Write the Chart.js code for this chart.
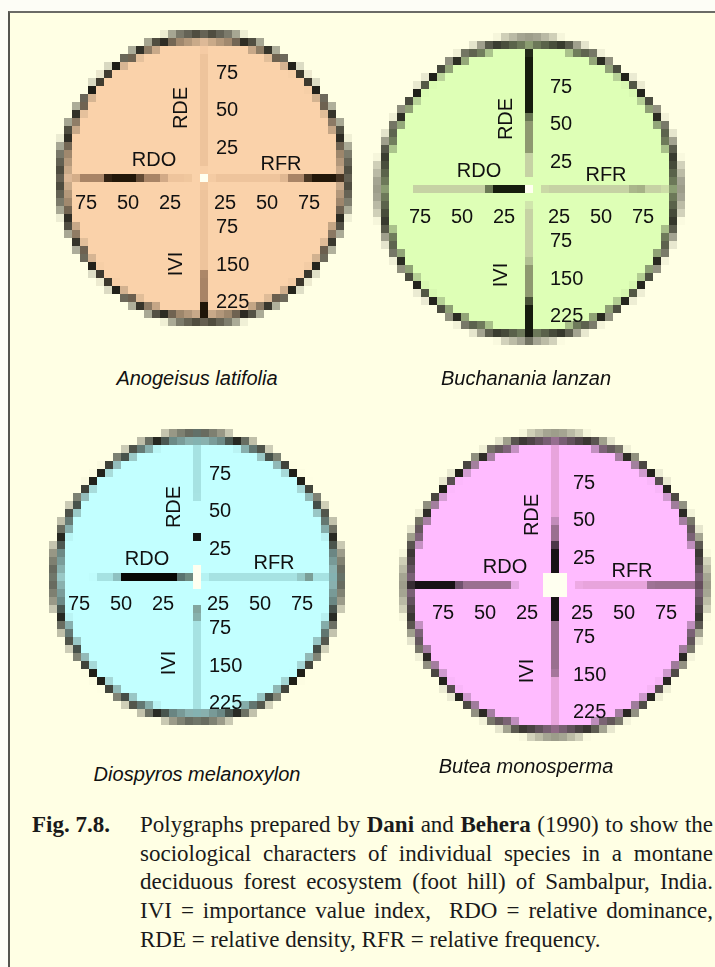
<!DOCTYPE html>
<html>
<head>
<meta charset="utf-8">
<script src="https://cdn.jsdelivr.net/npm/chart.js@4.4.0/dist/chart.umd.min.js"></script>
<style>
  body { margin: 0; width: 715px; height: 967px; overflow: hidden; background: #fdfdf6; position: relative; }
  .frame { position: absolute; left: 8px; top: 11px; width: 720px; height: 970px; background: #ffffe4;
           border-top: 2px solid #6b6b66; border-left: 2px solid #55554f; }
  .plot { position: absolute; }
  .plot canvas { position: absolute; left: 0; top: 0; }
  .plot canvas.cells { image-rendering: pixelated; }
  .name { position: absolute; font: italic 20px "Liberation Sans", Arial, sans-serif; color: #111;
          transform: translate(-50%, -50%); white-space: nowrap; }
  .fig { position: absolute; left: 32px; top: 811px; font: bold 23px "Liberation Serif", "Times New Roman", serif;
         line-height: 28.7px; color: #1a1a1a; }
  .caption { position: absolute; left: 140px; top: 811px; width: 573px; font: 23px "Liberation Serif", "Times New Roman", serif;
             line-height: 28.7px; color: #1a1a1a; }
  .caption div { text-align: justify; text-align-last: justify; }
  .caption div.last { text-align-last: left; }
</style>
</head>
<body>
<div class="frame"></div>
<div id="plots"></div>
<div class="fig">Fig. 7.8.</div>
<div class="caption">
  <div>Polygraphs prepared by <b>Dani</b> and <b>Behera</b> (1990) to show the</div>
  <div>sociological characters of individual species in a montane</div>
  <div>deciduous forest ecosystem (foot hill) of Sambalpur, India.</div>
  <div>IVI = importance value index,&nbsp; RDO = relative dominance,</div>
  <div class="last">RDE = relative density, RFR = relative frequency.</div>
</div>
<script>
const axisNames = ['RDO', 'RFR', 'RDE', 'IVI'];
const tickValues = [25, 50, 75];
const iviTickValues = [75, 150, 225];
const speciesNames = ['Anogeisus latifolia', 'Buchanania lanzan', 'Diospyros melanoxylon', 'Butea monosperma'];

// [from, to] along RDO, RFR, RDE, IVI - light, medium and dark cells of each polygraph
const anogeisusFaint = [[8, 24], [5, 49], [7, 85], [18, 190]];
const anogeisusBand = [[24, 76], [49, 82], [0, 0], [190, 280]];
const anogeisusCore = [[38, 59], [61, 82], [0, 0], [250, 280]];

const buchananiaFaint = [[24, 69], [8, 82], [8, 24], [36, 150]];
const buchananiaBand = [[0, 0], [62, 67], [24, 48], [150, 228]];
const buchananiaCore = [[0, 24], [0, 0], [48, 93], [228, 298]];

const diospyrosFaint = [[46, 60], [5, 85], [51, 96], [80, 280]];
const diospyrosBand = [[0, 10], [63, 68], [0, 0], [66, 76]];
const diospyrosCore = [[10, 46], [0, 0], [24, 29], [0, 0]];

const buteaFaint = [[0, 0], [13, 55], [43, 96], [176, 296]];
const buteaBand = [[25, 57], [55, 88], [28, 43], [70, 176]];
const buteaCore = [[57, 87], [0, 0], [3, 28], [0, 70]];

const plots = [
  { tiers: [anogeisusFaint, anogeisusBand, anogeisusCore], fill: '#fad2aa',
    shades: ['#eec49c', '#a88466', '#221709'], left: 56, top: 30, size: 296, ring: 143, hole: [8, 8],
    shift: [0, 0], nameX: 197, nameY: 378 },
  { tiers: [buchananiaFaint, buchananiaBand, buchananiaCore], fill: '#deffb6',
    shades: ['#c6d2a4', '#8e9870', '#161c0e'], left: 373, top: 33, size: 312, ring: 148, hole: [8, 8],
    shift: [9, 3], nameX: 526, nameY: 378 },
  { tiers: [diospyrosFaint, diospyrosBand, diospyrosCore], fill: '#c2ffff',
    shades: ['#a6e2e2', '#6e8a80', '#080806'], left: 49, top: 429, size: 296, ring: 142, hole: [8, 24],
    shift: [0, 2], nameX: 197, nameY: 774 },
  { tiers: [buteaFaint, buteaBand, buteaCore], fill: '#ffbbff',
    shades: ['#e8a4dc', '#9a7090', '#181216'], left: 399, top: 429, size: 312, ring: 148, hole: [24, 24],
    shift: [6, 3], nameX: 526, nameY: 766 }
];

function scalesFor(size) {
  const xr = size / 2 / 1.68;
  const yr = size / 2 / 1.5;
  return {
    x: { type: 'linear', display: false, min: -xr, max: xr },
    y: { type: 'linear', display: false, min: -yr, max: yr },
    yIvi: { type: 'linear', display: false, min: -yr * 3, max: yr * 3 }
  };
}

function segment(axis, range) {
  const [a, b] = range;
  if (axis === 'RDO') return [{ x: -a, y: 0 }, { x: -b, y: 0 }];
  if (axis === 'RFR') return [{ x: a, y: 0 }, { x: b, y: 0 }];
  if (axis === 'RDE') return [{ x: 0, y: a }, { x: 0, y: b }];
  return [{ x: 0, y: -a }, { x: 0, y: -b }];
}

const discPlugin = {
  id: 'disc',
  beforeDatasetsDraw(chart, args, opts) {
    const ctx = chart.ctx;
    const cx = chart.scales.x.getPixelForValue(0);
    const cy = chart.scales.y.getPixelForValue(0);
    ctx.save();
    ctx.beginPath();
    ctx.arc(cx, cy, opts.ring, 0, Math.PI * 2);
    ctx.fillStyle = opts.fill;
    ctx.fill();
    ctx.restore();
  },
  afterDatasetsDraw(chart, args, opts) {
    const ctx = chart.ctx;
    const cx = chart.scales.x.getPixelForValue(0);
    const cy = chart.scales.y.getPixelForValue(0);
    ctx.save();
    ctx.fillStyle = '#fffff0';
    ctx.fillRect(cx - opts.hole[0] / 2, cy - opts.hole[1] / 2, opts.hole[0], opts.hole[1]);
    ctx.beginPath();
    ctx.arc(cx, cy, opts.ring, 0, Math.PI * 2);
    ctx.lineWidth = 8;
    ctx.strokeStyle = '#1e1e17';
    ctx.stroke();
    ctx.restore();
  }
};

const labelPlugin = {
  id: 'axisLabels',
  afterDraw(chart, args, opts) {
    const ctx = chart.ctx;
    const { x, y, yIvi } = chart.scales;
    const cx = x.getPixelForValue(0);
    const cy = y.getPixelForValue(0);
    const [sx, sy] = opts.shift;
    ctx.save();
    ctx.font = '20px "Liberation Sans", Arial, sans-serif';
    ctx.fillStyle = '#111';
    ctx.textBaseline = 'middle';
    tickValues.forEach(v => {
      ctx.textAlign = 'center';
      ctx.fillText(v, x.getPixelForValue(-v) + 8 + sx, cy + 25 + sy);
      ctx.fillText(v, x.getPixelForValue(v) - 21 + sx, cy + 25 + sy);
      ctx.textAlign = 'left';
      ctx.fillText(v, cx + 12 + sx, y.getPixelForValue(v) + 7.5 + sy);
    });
    iviTickValues.forEach(v => {
      ctx.textAlign = 'left';
      ctx.fillText(v, cx + 12 + sx, yIvi.getPixelForValue(-v) + 12 + sy);
    });
    ctx.textAlign = 'center';
    ctx.fillText(axisNames[0], cx - 50, cy - 18);
    ctx.fillText(axisNames[1], cx + 77, cy - 14);
    [[axisNames[2], -23, -70], [axisNames[3], -28, 86]].forEach(([t, dx, dy]) => {
      ctx.save();
      ctx.translate(cx + dx, cy + dy);
      ctx.rotate(-Math.PI / 2);
      ctx.fillText(t, 0, 0);
      ctx.restore();
    });
    ctx.restore();
  }
};

const holder = document.getElementById('plots');

plots.forEach((p, i) => {
  const box = document.createElement('div');
  box.className = 'plot';
  box.style.left = p.left + 'px';
  box.style.top = p.top + 'px';
  box.style.width = p.size + 'px';
  box.style.height = p.size + 'px';
  holder.appendChild(box);

  const cells = document.createElement('canvas');
  cells.className = 'cells';
  cells.width = p.size;
  cells.height = p.size;
  cells.style.width = p.size + 'px';
  cells.style.height = p.size + 'px';
  box.appendChild(cells);

  const text = document.createElement('canvas');
  text.width = p.size;
  text.height = p.size;
  text.style.width = p.size + 'px';
  text.style.height = p.size + 'px';
  box.appendChild(text);

  const datasets = [];
  p.tiers.forEach((tier, t) => {
    tier.forEach((range, a) => {
      if (range[1] - range[0] <= 0) return;
      datasets.push({
        label: axisNames[a],
        data: segment(axisNames[a], range),
        showLine: true,
        borderColor: p.shades[t],
        borderWidth: 8,
        borderCapStyle: 'butt',
        pointRadius: 0,
        clip: false,
        order: 2 - t, // darker cells on top
        yAxisID: axisNames[a] === 'IVI' ? 'yIvi' : 'y'
      });
    });
  });

  // drawn at one device pixel per 8 css pixels, like the scanned original
  new Chart(cells, {
    type: 'scatter',
    data: { datasets: datasets },
    options: {
      responsive: false,
      animation: false,
      devicePixelRatio: 1 / 8,
      events: [],
      layout: { padding: 0 },
      plugins: {
        legend: { display: false },
        tooltip: { enabled: false },
        disc: { fill: p.fill, ring: p.ring, hole: p.hole }
      },
      scales: scalesFor(p.size)
    },
    plugins: [discPlugin]
  });

  new Chart(text, {
    type: 'scatter',
    data: { datasets: [] },
    options: {
      responsive: false,
      animation: false,
      events: [],
      layout: { padding: 0 },
      plugins: {
        legend: { display: false },
        tooltip: { enabled: false },
        axisLabels: { shift: p.shift }
      },
      scales: scalesFor(p.size)
    },
    plugins: [labelPlugin]
  });

  const name = document.createElement('div');
  name.className = 'name';
  name.textContent = speciesNames[i];
  name.style.left = p.nameX + 'px';
  name.style.top = p.nameY + 'px';
  holder.appendChild(name);
});
</script>
</body>
</html>
